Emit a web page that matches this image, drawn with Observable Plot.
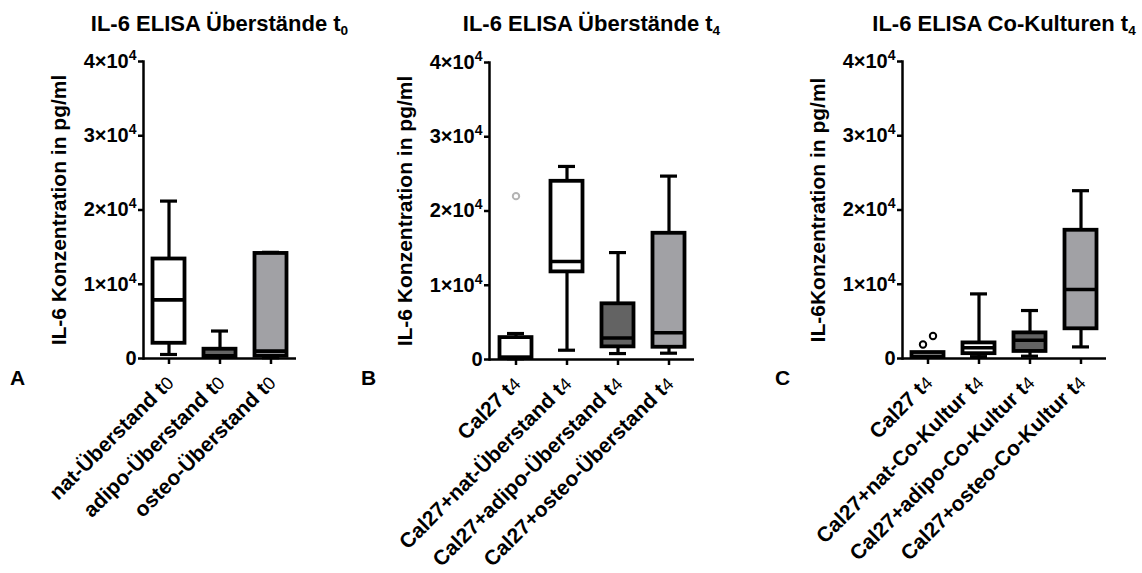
<!DOCTYPE html>
<html>
<head>
<meta charset="utf-8">
<script src="https://cdn.jsdelivr.net/npm/d3@7"></script>
<script src="https://cdn.jsdelivr.net/npm/@observablehq/plot@0.6"></script>
<style>
  html, body { margin: 0; padding: 0; background: #fff; }
  #fig { position: relative; width: 1142px; height: 573px; overflow: hidden;
         font-family: "Liberation Sans", Arial, Helvetica, sans-serif; font-weight: bold; color: #000; }
  .panel { position: absolute; top: 0; }
  .title { position: absolute; width: 420px; text-align: center; font-size: 22px; line-height: 22px; white-space: nowrap; }
  .title sub { font-size: 0.62em; vertical-align: -0.28em; line-height: 0; }
  .letter { position: absolute; font-size: 21px; line-height: 21px; }
</style>
</head>
<body>
<div id="fig"></div>
<script>
// ---- IL-6 ELISA, supernatants at t0 (pg/ml) ----
const catsA  = ["nat-Überstand t0", "adipo-Überstand t0", "osteo-Überstand t0"];
const minA   = [540, 150, 100];
const q1A    = [2050, 250, 300];
const medA   = [7900, 350, 1000];
const q3A    = [13400, 1250, 14150];
const maxA   = [21200, 3700, 14300];
const fillA  = ["#ffffff", "#636363", "#a1a1a5"];
const outA   = [];

// ---- IL-6 ELISA, supernatants at t4 ----
const catsB  = ["Cal27 t4", "Cal27+nat-Überstand t4", "Cal27+adipo-Überstand t4", "Cal27+osteo-Überstand t4"];
const minB   = [100, 1250, 800, 850];
const q1B    = [200, 11800, 1700, 1650];
const medB   = [300, 13200, 2900, 3600];
const q3B    = [2950, 24000, 7500, 17000];
const maxB   = [3500, 26000, 14400, 24700];
const fillB  = ["#ffffff", "#ffffff", "#636363", "#a1a1a5"];
const outB   = [{cat: "Cal27 t4", value: 22000, side: 0}];

// ---- IL-6 ELISA, co-cultures at t4 ----
const catsC  = ["Cal27 t4", "Cal27+nat-Co-Kultur t4", "Cal27+adipo-Co-Kultur t4", "Cal27+osteo-Co-Kultur t4"];
const minC   = [200, 250, 310, 1560];
const q1C    = [200, 650, 950, 4000];
const medC   = [250, 1450, 2450, 9300];
const q3C    = [800, 2100, 3450, 17270];
const maxC   = [800, 8700, 6460, 22600];
const fillC  = ["#ffffff", "#ffffff", "#636363", "#a1a1a5"];
const outC   = [{cat: "Cal27 t4", value: 1880, side: -1}, {cat: "Cal27 t4", value: 3040, side: 1}];

const yTicks = [0, 10000, 20000, 30000, 40000];
const FONT = '"Liberation Sans", Arial, Helvetica, sans-serif';
const SVGNS = "http://www.w3.org/2000/svg";

function boxPanel(cfg) {
  const rows = cfg.cats.map((c, i) => ({
    cat: c, min: cfg.min[i], q1: cfg.q1[i], med: cfg.med[i], q3: cfg.q3[i], max: cfg.max[i], fill: cfg.fill[i]
  }));
  const chart = Plot.plot({
    width: cfg.width, height: 573,
    marginLeft: cfg.marginLeft, marginRight: cfg.marginRight,
    marginTop: cfg.marginTop, marginBottom: 573 - cfg.zeroY,
    style: {fontFamily: FONT, fontWeight: "bold", color: "black", background: "transparent", overflow: "visible"},
    x: {domain: cfg.cats, padding: 0, label: null},
    y: {domain: [0, 40000], label: null},
    color: {type: "identity"},
    marks: [
      // whiskers and caps
      Plot.ruleX(rows, {x: "cat", y1: "min", y2: "q1", stroke: "black", strokeWidth: 3.2}),
      Plot.ruleX(rows, {x: "cat", y1: "q3", y2: "max", stroke: "black", strokeWidth: 3.2}),
      Plot.tickY(rows, {x: "cat", y: "min", stroke: "black", strokeWidth: 3.2, inset: 17}),
      Plot.tickY(rows, {x: "cat", y: "max", stroke: "black", strokeWidth: 3.2, inset: 17}),
      // interquartile box and median
      Plot.barY(rows, {x: "cat", y1: "q1", y2: "q3", fill: "fill", stroke: "black", strokeWidth: 3.8,
                       insetLeft: 9.5, insetRight: 9.5}),
      Plot.tickY(rows, {x: "cat", y: "med", stroke: "black", strokeWidth: 3.6, inset: 9.5}),
      // outliers
      Plot.dot(cfg.out, {x: "cat", y: "value", filter: d => d.side === 0, r: 3.2, fill: "white",
                         stroke: cfg.outColor, strokeWidth: 2}),
      Plot.dot(cfg.out, {x: "cat", y: "value", filter: d => d.side < 0, dx: -5, r: 3.2, fill: "white",
                         stroke: cfg.outColor, strokeWidth: 2}),
      Plot.dot(cfg.out, {x: "cat", y: "value", filter: d => d.side > 0, dx: 5, r: 3.2, fill: "white",
                         stroke: cfg.outColor, strokeWidth: 2}),
      // axes
      Plot.axisY({ticks: yTicks, tickFormat: d => d === 0 ? "0" : `${d / 10000}×10⁴`, tickSize: 5,
                  tickPadding: 2, fontSize: 20, strokeWidth: 2.5, label: null}),
      Plot.axisX({tickRotate: -45, tickSize: 6, tickPadding: 3, fontSize: 21, strokeWidth: 2.5, label: null}),
      Plot.ruleY([0], {stroke: "black", strokeWidth: 2.5}),
      Plot.frame({anchor: "left", stroke: "black", strokeWidth: 2.5}),
      Plot.text([cfg.ylabel], {frameAnchor: "left", textAnchor: "middle", rotate: -90, dx: -84,
                               fontSize: 21, fontWeight: "bold"})
    ]
  });

  // category labels sit a little below the tick ends
  chart.querySelectorAll('g[aria-label="x-axis tick label"]').forEach(g => {
    g.setAttribute("transform", `${g.getAttribute("transform") || ""} translate(1,12)`);
  });
  // "t0"/"t4" in category labels: the time index is set in regular weight
  chart.querySelectorAll('g[aria-label="x-axis tick label"] text').forEach(t => {
    const s = t.textContent;
    t.textContent = "";
    const a = document.createElementNS(SVGNS, "tspan");
    a.textContent = s.slice(0, -1);
    const b = document.createElementNS(SVGNS, "tspan");
    b.textContent = s.slice(-1);
    b.setAttribute("font-weight", "normal");
    b.setAttribute("font-size", "18");
    t.append(a, b);
  });
  // exponent of the y tick labels as a raised tspan
  chart.querySelectorAll('g[aria-label="y-axis tick label"] text').forEach(t => {
    const s = t.textContent;
    if (!s.endsWith("⁴")) return;
    t.textContent = "";
    const a = document.createElementNS(SVGNS, "tspan");
    a.textContent = s.slice(0, -1);
    const b = document.createElementNS(SVGNS, "tspan");
    b.textContent = "4";
    b.setAttribute("font-size", "14");
    b.setAttribute("dy", "-8");
    t.append(a, b);
  });
  return chart;
}

const fig = document.getElementById("fig");

function addPanel(left, cfg, title, sub, letter) {
  const div = document.createElement("div");
  div.className = "panel";
  div.style.left = left + "px";
  div.appendChild(boxPanel(cfg));
  fig.appendChild(div);

  const axisCenter = left + cfg.marginLeft + (cfg.width - cfg.marginLeft - cfg.marginRight) / 2;
  const t = document.createElement("div");
  t.className = "title";
  t.style.left = (axisCenter - 210) + "px";
  t.style.top = "13px";
  t.innerHTML = `${title}<sub>${sub}</sub>`;
  fig.appendChild(t);

  const l = document.createElement("div");
  l.className = "letter";
  l.style.left = letter.x + "px";
  l.style.top = "367px";
  l.textContent = letter.text;
  fig.appendChild(l);
}

addPanel(0, {cats: catsA, min: minA, q1: q1A, med: medA, q3: q3A, max: maxA, fill: fillA, out: outA,
             outColor: "black", ylabel: "IL-6 Konzentration in pg/ml",
             width: 380, marginLeft: 143, marginRight: 84, marginTop: 61, zeroY: 358},
         "IL-6 ELISA Überstände t", "0", {x: 10, text: "A"});

addPanel(380, {cats: catsB, min: minB, q1: q1B, med: medB, q3: q3B, max: maxB, fill: fillB, out: outB,
               outColor: "#b4b4b4", ylabel: "IL-6 Konzentration in pg/ml",
               width: 380, marginLeft: 109, marginRight: 66, marginTop: 62, zeroY: 359},
         "IL-6 ELISA Überstände t", "4", {x: 361, text: "B"});

addPanel(760, {cats: catsC, min: minC, q1: q1C, med: medC, q3: q3C, max: maxC, fill: fillC, out: outC,
               outColor: "black", ylabel: "IL-6Konzentration in pg/ml",
               width: 382, marginLeft: 142, marginRight: 36, marginTop: 61, zeroY: 358},
         "IL-6 ELISA Co-Kulturen t", "4", {x: 775, text: "C"});
</script>
</body>
</html>
